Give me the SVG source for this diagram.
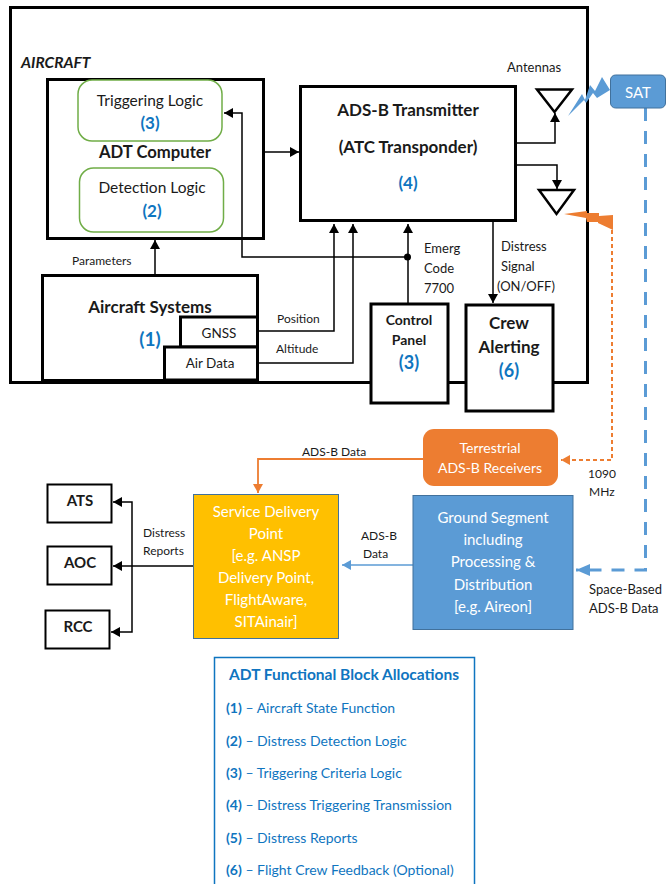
<svg xmlns="http://www.w3.org/2000/svg" width="670" height="884" viewBox="0 0 670 884">
<style>
text{font-family:"Lato","Carlito","Open Sans",sans-serif;fill:#1a1a1a;font-size:13px}
.m{text-anchor:middle}
.b{font-weight:700}
.blue{fill:#0f75c0;font-weight:700;font-size:17px}
.lg{fill:#0f75c0;font-size:14px}
.w{fill:#fff;font-size:15px}
.box{fill:#fff;stroke:#000;stroke-width:3}
.thin{fill:#fff;stroke:#000;stroke-width:2}
.grn{fill:#fff;stroke:#70ad47;stroke-width:1.500}
.c{fill:none;stroke:#000;stroke-width:1.500}
</style>
<defs>
<marker id="a" markerUnits="userSpaceOnUse" markerWidth="10" markerHeight="10" refX="9" refY="5" orient="auto"><path d="M0 0L9 5L0 10Z" fill="#000"/></marker>
<marker id="o" markerUnits="userSpaceOnUse" markerWidth="10" markerHeight="10" refX="9" refY="5" orient="auto"><path d="M0 0L9 5L0 10Z" fill="#ed7d31"/></marker>
<marker id="bl" markerUnits="userSpaceOnUse" markerWidth="16" markerHeight="12" refX="14" refY="6" orient="auto"><path d="M0 0L14 6L0 12Z" fill="#5b9bd5"/></marker>
<marker id="bs" markerUnits="userSpaceOnUse" markerWidth="10" markerHeight="10" refX="9" refY="5" orient="auto"><path d="M0 0L9 5L0 10Z" fill="#5b9bd5"/></marker>
</defs>
<rect width="670" height="884" fill="#fff"/>
<g id="aircraft"><rect x="10.500" y="7.500" width="577" height="375" fill="#fff" stroke="#000" stroke-width="3"/>
<text x="21" y="68" class="b" style="font-style:italic;font-size:15.500px">AIRCRAFT</text></g>
<g id="adt-computer"><rect class="box" x="47.500" y="79.500" width="216" height="159"/>
<text x="155" y="158" class="m b" style="font-size:16.700px">ADT Computer</text></g>
<g id="triggering-logic"><rect class="grn" x="78" y="80" width="144" height="61" rx="14"/>
<text x="150" y="106" class="m" style="font-size:15.500px">Triggering Logic</text><text x="150" y="129" class="m blue">(3)</text></g>
<g id="detection-logic"><rect class="grn" x="79.500" y="168" width="144" height="64" rx="14"/>
<text x="152" y="193" class="m" style="font-size:15.500px">Detection Logic</text><text x="152" y="217" class="m blue">(2)</text></g>
<g id="transmitter"><rect class="box" x="300.500" y="86.500" width="215" height="134"/>
<text x="408" y="116" class="m b" style="font-size:17px">ADS-B Transmitter</text><text x="408" y="153" class="m b" style="font-size:17px">(ATC Transponder)</text><text x="408" y="189" class="m blue">(4)</text></g>
<g id="aircraft-systems"><rect class="box" x="42.500" y="275.500" width="215" height="105"/>
<text x="150" y="313" class="m b" style="font-size:17px">Aircraft Systems</text><text x="150" y="346" class="m blue" style="font-size:19px">(1)</text></g>
<g id="gnss"><rect class="box" x="180.500" y="317" width="77" height="30"/><text x="219" y="338" class="m" style="font-size:13.500px">GNSS</text></g>
<g id="air-data"><rect class="box" x="164.500" y="347" width="93" height="33"/><text x="210" y="368" class="m" style="font-size:13.500px">Air Data</text></g>
<g id="control-panel"><rect class="box" x="371" y="304" width="77" height="99"/>
<text x="409" y="325" class="m b" style="font-size:14px">Control</text><text x="409" y="345" class="m b" style="font-size:14px">Panel</text><text x="409" y="369" class="m blue" style="font-size:18px">(3)</text></g>
<g id="crew-alerting"><rect class="box" x="466" y="305" width="87" height="106"/>
<text x="509" y="329" class="m b" style="font-size:17px">Crew</text><text x="509" y="353" class="m b" style="font-size:17px">Alerting</text><text x="509" y="377" class="m blue" style="font-size:18px">(6)</text></g>
<g id="antenna-top"><path d="M537 89.500H572L554.500 112Z" fill="#fff" stroke="#000" stroke-width="2.500"/></g>
<g id="antenna-bottom"><path d="M539 190H574L556.500 214Z" fill="#fff" stroke="#000" stroke-width="2.500"/></g>
<g id="connectors">
<path class="c" d="M155 275V240" marker-end="url(#a)"/>
<path class="c" d="M264 152H299" marker-end="url(#a)"/>
<path class="c" d="M408 257H242V113H224" marker-end="url(#a)"/>
<path class="c" d="M258 331H334V224" marker-end="url(#a)"/>
<path class="c" d="M258 363H353V224" marker-end="url(#a)"/>
<path class="c" d="M408 303V224" marker-end="url(#a)"/>
<circle cx="407.500" cy="257" r="3.500" fill="#000"/>
<path class="c" d="M516 143H555V113" marker-end="url(#a)"/>
<path class="c" d="M516 165H557V189" marker-end="url(#a)"/>
<path class="c" d="M493 221V303" marker-end="url(#a)"/>
<path d="M423 459H258V493" fill="none" stroke="#ed7d31" stroke-width="1.800" marker-end="url(#o)"/>
<path d="M612 230V460H561" fill="none" stroke="#ed7d31" stroke-width="2" stroke-dasharray="4 3" marker-end="url(#o)"/>
<path d="M413 565H342" fill="none" stroke="#5b9bd5" stroke-width="1.500" marker-end="url(#bs)"/>
<path d="M645.500 108V570H576" fill="none" stroke="#5b9bd5" stroke-width="3" stroke-dasharray="13 10" marker-end="url(#bl)"/>
<path class="c" d="M193 566H113" marker-end="url(#a)"/>
<path class="c" stroke-width="2" d="M132 566V502H113" marker-end="url(#a)"/>
<path class="c" d="M132 566V632H111" marker-end="url(#a)"/>
</g>
<g id="labels">
<text x="507" y="72">Antennas</text>
<text x="72" y="265" style="font-size:12px">Parameters</text>
<text x="277" y="323" style="font-size:12px">Position</text>
<text x="276" y="353" style="font-size:12px">Altitude</text>
<text x="424" y="253">Emerg</text><text x="424" y="273">Code</text><text x="424" y="293">7700</text>
<text x="501" y="251">Distress</text><text x="501" y="271">Signal</text><text x="497" y="291">(ON/OFF)</text>
<text x="302" y="456" style="font-size:12px">ADS-B Data</text>
<text x="588" y="478" style="font-size:12px">1090</text><text x="589" y="496" style="font-size:12px">MHz</text>
<text x="361" y="540" style="font-size:12px">ADS-B</text><text x="363" y="558" style="font-size:12px">Data</text>
<text x="143" y="537" style="font-size:12px">Distress</text><text x="143" y="555" style="font-size:12px">Reports</text>
<text x="589" y="594">Space-Based</text><text x="589" y="613">ADS-B Data</text>
</g>
<g id="sat-link"><path d="M568 116L582 94L585 100L590 85L595 91L602 77L610 90L597 98L593 93L586 103L584 100Z" fill="#5b9bd5"/></g>
<g id="sat"><rect x="610.500" y="75" width="55" height="33" rx="5" fill="#5b9bd5" stroke="#41719c"/><text x="638" y="98" class="m w">SAT</text></g>
<g id="terrestrial-link"><path d="M564 214L587 211V213L599 213V216L613 215V230L598 223V222L587 222L586 218Z" fill="#ed7d31"/></g>
<g id="terrestrial"><rect x="423" y="429" width="135" height="57" rx="11" fill="#ed7d31"/><text x="490" y="453" class="m w" style="font-size:14px">Terrestrial</text><text x="490" y="473" class="m w" style="font-size:14px">ADS-B Receivers</text></g>
<g id="ground-segment"><rect x="413" y="495.500" width="160" height="134" fill="#5b9bd5" stroke="#41719c"/>
<text x="493" y="523" class="m w">Ground Segment</text><text x="493" y="545" class="m w">including</text><text x="493" y="567" class="m w">Processing &amp;</text><text x="493" y="590" class="m w">Distribution</text><text x="493" y="612" class="m w">[e.g. Aireon]</text></g>
<g id="service-delivery"><rect x="193.500" y="494.500" width="145" height="144" fill="#ffc000" stroke="#41719c"/>
<text x="266" y="517" class="m w">Service Delivery</text><text x="266" y="539" class="m w">Point</text><text x="266" y="561" class="m w">[e.g. ANSP</text><text x="266" y="583" class="m w">Delivery Point,</text><text x="266" y="605" class="m w">FlightAware,</text><text x="266" y="627" class="m w">SITAinair]</text></g>
<g id="ats"><rect class="thin" x="47.500" y="484.500" width="64" height="38"/><text x="80" y="506" class="m b" style="font-size:15px">ATS</text></g>
<g id="aoc"><rect class="thin" x="47.500" y="546.500" width="64" height="38"/><text x="80" y="568" class="m b" style="font-size:15px">AOC</text></g>
<g id="rcc"><rect class="thin" x="45.500" y="610.500" width="64" height="38"/><text x="78" y="632" class="m b" style="font-size:15px">RCC</text></g>
<g id="legend"><rect x="214.500" y="657.500" width="260" height="240" fill="#fff" stroke="#0f75c0" stroke-width="1.500"/>
<text x="344" y="680" class="m lg" style="font-weight:700;font-size:15.500px">ADT Functional Block Allocations</text>
<text x="226" y="713" class="lg"><tspan font-weight="700">(1)</tspan> – Aircraft State Function</text>
<text x="226" y="746" class="lg"><tspan font-weight="700">(2)</tspan> – Distress Detection Logic</text>
<text x="226" y="778" class="lg"><tspan font-weight="700">(3)</tspan> – Triggering Criteria Logic</text>
<text x="226" y="810" class="lg"><tspan font-weight="700">(4)</tspan> – Distress Triggering Transmission</text>
<text x="226" y="843" class="lg"><tspan font-weight="700">(5)</tspan> – Distress Reports</text>
<text x="226" y="875" class="lg"><tspan font-weight="700">(6)</tspan> – Flight Crew Feedback (Optional)</text></g>
</svg>
